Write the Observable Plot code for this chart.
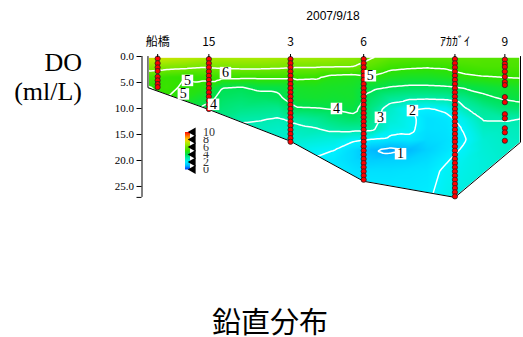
<!DOCTYPE html>
<html><head><meta charset="utf-8">
<script src="https://cdn.jsdelivr.net/npm/d3@7"></script>
<script src="https://cdn.jsdelivr.net/npm/@observablehq/plot@0.6"></script>
<style>
body{margin:0;background:#fff;}
#wrap{position:relative;width:523px;height:337px;overflow:hidden;background:#fff;}
#main{position:absolute;left:0;top:0;}
#legend{position:absolute;left:170px;top:120px;}
.t{position:absolute;white-space:nowrap;color:#000;}
</style></head><body>
<div id="wrap">
  <div id="main"></div>
  <div id="legend"></div>
  <div class="t" style="left:283px;width:100px;top:9px;text-align:center;font:12px 'Liberation Sans',Arial,sans-serif;">2007/9/18</div>
  <div class="t" style="right:441px;top:50px;font:26px/26px 'Liberation Serif','Times New Roman',serif;">DO</div>
  <div class="t" style="right:441px;top:79px;font:26px/26px 'Liberation Serif','Times New Roman',serif;">(ml/L)</div>
  <div class="t" style="left:170px;width:200px;top:305px;text-align:center;font:29px/30px 'Noto Sans CJK JP',sans-serif;">鉛直分布</div>
</div>
<script>
// Stations along the transect (x = relative distance)
const stationNames = ["船橋", "15", "3", "6", "ｱｶｶﾞｲ", "9"];
const stationX = [2.6, 16.35, 38.26, 57.9, 82.4, 95.8];

// Sea-bottom profile
const bottomX = [0, 16.35, 38.26, 57.9, 82.4, 100];
const bottomDepth = [6.0, 10.2, 16.3, 24.0, 27.1, 16.5];

// Sampling depths
const profileDepths = [0.5,1.3,2.1,2.9,3.7,4.5,5.3,6.1,6.9,7.7,8.5,9.3,10.1,10.9,11.7,12.5,13.3,14.1,14.9,15.7,16.4,17.3,18.1,18.9,19.7,20.5,21.3,22.1,22.9,23.7,24.5,25.3,26.1,26.9];
const funabashiDepths = [0.4,1.3,2.1,2.8,3.9,4.6,5.3,5.9];
const st9Depths = [0.6,1.4,2.0,2.9,3.9,4.9,5.5,7.8,8.8,11.1,11.9,13.8,14.6,16.2];

// DO field (rows: depth, columns: x)
const gridX = [0,5,10,15,20,25,30,35,40,45,50,55,60,65,70,75,80,85,90,95,100];
const gridDepth = [0,2,4,6,8,10,12,14,16,18,20,22,24,26,28];
const doGrid = [
 [7.6,7.5,7.3,7.1,7.0,7.0,7.0,6.9,6.9,6.8,6.7,6.5,6.1,5.8,5.7,5.7,5.7,5.7,5.6,5.6,5.6],
 [6.4,6.3,6.2,6.05,6.15,6.2,6.2,6.15,6.05,6.05,6.02,6.0,5.6,5.2,5.1,5.05,5.1,5.3,5.4,5.4,5.4],
 [5.4,5.1,5.0,5.1,5.15,5.15,5.15,5.15,5.15,5.1,4.75,4.65,4.9,4.6,4.5,4.5,4.6,4.85,4.95,5.0,5.05],
 [4.95,5.15,4.9,4.8,4.0,3.95,4.1,4.1,4.5,4.55,4.5,4.45,4.15,3.95,3.85,3.85,3.9,4.05,4.2,4.35,4.5],
 [4.9,5.0,4.7,4.3,3.8,3.7,3.8,3.9,4.35,4.4,4.35,4.4,3.75,3.3,3.15,3.1,3.15,3.4,3.85,4.05,4.2],
 [4.8,4.8,4.5,3.85,3.6,3.45,3.4,3.35,3.95,3.98,4.05,4.2,3.45,2.7,2.1,1.95,2.15,2.95,3.3,3.6,3.7],
 [4.7,4.6,4.3,3.7,3.4,3.1,3.05,2.95,3.15,3.3,3.6,3.8,3.4,2.55,2.2,1.7,1.8,2.3,3.05,3.05,3.0],
 [4.6,4.5,4.2,3.6,3.2,2.85,2.8,2.7,2.85,2.95,3.15,3.2,3.15,2.3,2.15,1.7,1.75,2.05,2.75,2.8,2.85],
 [4.5,4.4,4.1,3.5,3.1,2.75,2.7,2.6,2.6,2.5,2.4,2.1,1.95,1.8,1.85,1.6,1.7,1.95,2.55,2.7,2.75],
 [4.4,4.3,4.0,3.4,3.0,2.7,2.6,2.5,2.4,2.1,2.0,1.6,1.05,0.8,1.05,1.45,1.75,2.1,2.5,2.65,2.7],
 [4.3,4.2,3.9,3.3,2.9,2.65,2.55,2.45,2.3,1.95,1.85,1.6,1.4,1.45,1.5,1.65,1.95,2.25,2.45,2.6,2.65],
 [4.2,4.1,3.8,3.2,2.85,2.6,2.5,2.4,2.25,2.0,1.85,1.75,1.7,1.7,1.75,1.8,2.1,2.3,2.45,2.55,2.6],
 [4.1,4.0,3.7,3.1,2.8,2.55,2.45,2.35,2.2,2.0,1.85,1.8,1.8,1.8,1.8,1.85,2.15,2.35,2.45,2.5,2.55],
 [4.0,3.9,3.6,3.0,2.75,2.5,2.4,2.3,2.15,2.0,1.85,1.85,1.85,1.85,1.85,1.9,2.2,2.4,2.45,2.5,2.5],
 [3.9,3.8,3.5,2.9,2.7,2.45,2.35,2.25,2.1,2.0,1.9,1.9,1.9,1.9,1.9,1.95,2.25,2.45,2.45,2.5,2.5]
];

// Contour levels and in-figure labels
const contourLevels = [1,2,3,4,5,6];
const labelX = [20.8, 10.6, 9.5, 17.6, 50.6, 59.7, 62.4, 71.0, 67.8];
const labelDepth = [3.1, 4.6, 7.2, 9.2, 10.0, 3.7, 11.7, 10.4, 18.7];
const labelText = ["6","5","5","4","4","5","3","2","1"];

// Colour bar
const legendTicks = [0,2,4,6,8,10];
const colorStops = [0,1,2,3,4,5,6,7,8,9,10];
const colorRange = ["#0030ff","#00b8ff","#00f2ff","#00ecb0","#00e250","#30e200","#70e600","#b0ea00","#ffd000","#ff7000","#ff0000"];

// ---- build tables ----
const points = [];
gridDepth.forEach((d, i) => gridX.forEach((x, j) => points.push({x, d, v: doGrid[i][j]})));
const bottom = bottomX.map((x, i) => ({x, d: bottomDepth[i]}));
const outline = [{x: 0, d: 0}, ...bottom, {x: 100, d: 0}];
const lineStations = [1, 2, 3, 4].map(i => ({x: stationX[i], b: bottomDepth[i]}));
const dots = [];
funabashiDepths.forEach(d => dots.push({x: stationX[0], d}));
[1, 2, 3, 4].forEach(i => profileDepths.filter(d => d <= bottomDepth[i] + 0.2).forEach(d => dots.push({x: stationX[i], d})));
st9Depths.forEach(d => dots.push({x: stationX[5], d}));
const labels = labelX.map((x, i) => ({x, d: labelDepth[i], t: labelText[i]}));

const color = {type: "linear", domain: colorStops, range: colorRange, clamp: true};
const serif = "'Liberation Serif','Times New Roman',serif";

const main = Plot.plot({
  width: 523, height: 200,
  marginTop: 56, marginBottom: 3.1, marginLeft: 141.5, marginRight: 3,
  x: {domain: [-1.6, 100], axis: null},
  y: {domain: [0, 27.1], reverse: true, axis: null},
  color,
  marks: [
    Plot.raster(points, {x: "x", y: "d", fill: "v", interpolate: "barycentric", x1: 0, x2: 100, y1: 0, y2: 28, pixelSize: 1, clip: true}),
    Plot.contour(points, {x: "x", y: "d", value: "v", interpolate: "barycentric", x1: 0, x2: 100, y1: 0, y2: 28, thresholds: contourLevels, fill: "none", stroke: "white", strokeWidth: 1.5, clip: true}),
    Plot.areaY(bottom, {x: "x", y1: "d", y2: 40, fill: "white", clip: true}),
    Plot.line(outline, {x: "x", y: "d", stroke: "black", strokeWidth: 1}),
    Plot.ruleX(lineStations, {x: "x", y1: 0, y2: "b", stroke: "black", strokeWidth: 1}),
    Plot.dot(dots, {x: "x", y: "d", r: 2.6, fill: "#ff0000", stroke: "#222", strokeWidth: 0.8}),
    Plot.dot(labels, {x: "x", y: "d", symbol: "square", r: 6.5, fill: "white"}),
    Plot.text(labels, {x: "x", y: "d", text: "t", fontFamily: serif, fontSize: 14, fill: "black"}),
    Plot.ruleX([-1.6], {y1: 0, y2: 27.1, stroke: "black"}),
    Plot.axisY({ticks: [0,5,10,15,20,25,27.1], tickFormat: d => d > 26 ? "" : d.toFixed(1), tickSize: 5, tickPadding: 3, fontFamily: serif, fontSize: 11, label: null}),
    Plot.axisX({anchor: "top", ticks: stationX, tickFormat: d => stationNames[stationX.indexOf(d)], tickSize: 3, tickPadding: 8, fontSize: 12, fontFamily: "'Noto Sans CJK JP',sans-serif", label: null})
  ]
});
document.getElementById("main").append(main);

const legend = Plot.plot({
  width: 50, height: 60,
  marginTop: 11.5, marginBottom: 11, marginLeft: 14.5, marginRight: 30.5,
  x: {domain: [0, 1], axis: null},
  y: {domain: [0, 10], axis: null},
  color,
  marks: [
    Plot.raster({fill: (x, y) => y, x1: 0, x2: 1, y1: 0, y2: 10, pixelSize: 1}),
    Plot.dot(legendTicks, {x: 1, y: d => d, symbol: "triangle", rotate: -90, r: 3.4, fill: "black", dx: 3}),
    Plot.text(legendTicks, {x: 1, y: d => d, text: d => String(d), dx: 13, textAnchor: "start", fontFamily: serif, fontSize: 12, fill: "#333", stroke: "white", strokeWidth: 2})
  ]
});
document.getElementById("legend").append(legend);
</script>
</body></html>
